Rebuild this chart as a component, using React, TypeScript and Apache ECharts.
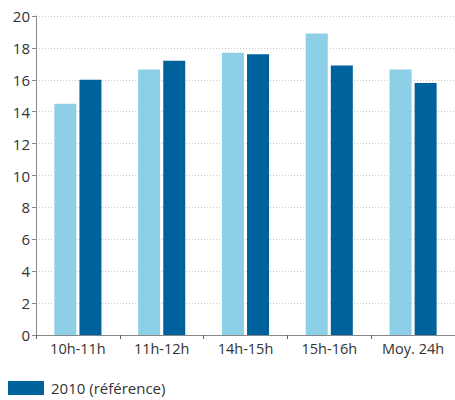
import React, { useEffect, useRef } from "react";
import * as echarts from "echarts";

const categories = ["10h-11h", "11h-12h", "14h-15h", "15h-16h", "Moy. 24h"];
const seriesLightName = "Actuel";
const seriesLight = [14.5, 16.65, 17.7, 18.9, 16.65];
const seriesDarkName = "2010 (référence)";
const seriesDark = [16.0, 17.2, 17.6, 16.9, 15.8];

export default function App() {
  const ref = useRef<HTMLDivElement>(null);
  useEffect(() => {
    if (!ref.current) return;
    const chart = echarts.init(ref.current, null, { renderer: "svg" });
    const font = "'Open Sans', 'Noto Sans', sans-serif";
    chart.setOption({
      animation: false,
      textStyle: { fontFamily: font },
      grid: { left: 36, top: 16, width: 422, height: 319, containLabel: false },
      legend: {
        data: [seriesDarkName],
        left: 8,
        top: 377,
        padding: 0,
        itemWidth: 36,
        itemHeight: 14,
        itemGap: 8,
        icon: "rect",
        textStyle: { fontSize: 15, color: "#333", fontFamily: font, lineHeight: 22, padding: [0, 0, 0, 2] },
        selectedMode: false,
      },
      xAxis: {
        type: "category",
        data: categories,
        axisLine: { lineStyle: { color: "#888", width: 1 } },
        axisTick: { show: true, length: 4, inside: false, lineStyle: { color: "#666" } },
        axisLabel: { fontSize: 14.5, color: "#333", margin: 6, fontFamily: font },
      },
      yAxis: {
        type: "value",
        min: 0,
        max: 20,
        interval: 2,
        axisLine: { show: true, lineStyle: { color: "#888", width: 1 } },
        axisTick: { show: true, length: 4, lineStyle: { color: "#888" } },
        axisLabel: { fontSize: 15, color: "#333", margin: 6, fontFamily: font },
        splitLine: { show: true, lineStyle: { color: "#c8c8c8", type: [1, 2], width: 1 } },
      },
      series: [
        {
          name: seriesLightName,
          type: "bar",
          data: seriesLight,
          itemStyle: { color: "#8ccfe6" },
          barWidth: 22,
          barGap: "14%",
        },
        {
          name: seriesDarkName,
          type: "bar",
          data: seriesDark,
          itemStyle: { color: "#00629c" },
          barWidth: 22,
          barGap: "14%",
        },
      ],
    });
    return () => chart.dispose();
  }, []);
  return <div ref={ref} style={{ width: 455, height: 400, position: "absolute", left: 0, top: 0 }} />;
}
